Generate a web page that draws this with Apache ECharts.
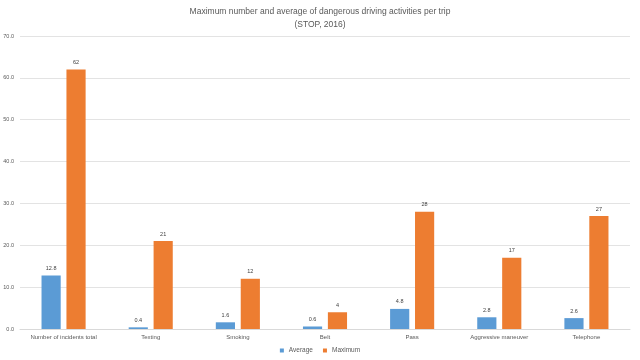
<!DOCTYPE html>
<html><head><meta charset="utf-8">
<script src="https://cdn.jsdelivr.net/npm/echarts@6/dist/echarts.min.js"></script>
<style>html,body{margin:0;padding:0;background:#fff}#c{width:640px;height:360px}</style>
</head><body><div id="c"></div>
<script>
const categories = ["Number of incidents total","Texting","Smoking","Belt","Pass","Aggressive maneuver","Telephone"];
const averageValues = [12.8, 0.4, 1.6, 0.6, 4.8, 2.8, 2.6];
const maximumValues = [62, 21, 12, 4, 28, 17, 27];
const seriesNames = ["Average","Maximum"];
const titleLines = ["Maximum number and average of dangerous driving activities per trip","(STOP, 2016)"];

const FONT = '"Liberation Sans Narrow","Liberation Sans",Arial,sans-serif';
const chart = echarts.init(document.getElementById('c'));
chart.setOption({
  animation:false,
  textStyle:{fontFamily:FONT},
  title:{text:titleLines.join('\n'),left:'center',top:0,
    textStyle:{fontSize:8.5,fontWeight:'normal',color:'#595959',lineHeight:13,fontFamily:FONT}},
  legend:{top:342,left:'center',itemWidth:4,itemHeight:4,itemGap:10,icon:'rect',
    textStyle:{fontSize:6.5,color:'#595959',fontFamily:FONT},data:seriesNames},
  grid:{left:20,right:10,top:36,bottom:31,containLabel:false},
  xAxis:{type:'category',data:categories,
    axisLine:{lineStyle:{color:'#d9d9d9'}},axisTick:{show:false},
    axisLabel:{fontSize:6,color:'#595959',margin:5,interval:0,fontFamily:FONT}},
  yAxis:{type:'value',min:0,max:70,interval:10,
    axisLine:{show:false},axisTick:{show:false},
    splitLine:{lineStyle:{color:'#e3e3e3'}},
    axisLabel:{fontSize:5.5,color:'#595959',margin:6,formatter:v=>v.toFixed(1),fontFamily:FONT}},
  series:[
    {name:seriesNames[0],type:'bar',data:averageValues,barWidth:'22%',barGap:'30%',
     itemStyle:{color:'#5b9bd5'},
     label:{show:true,position:'top',fontSize:5.5,color:'#404040',distance:4,formatter:p=>p.value.toFixed(1),fontFamily:FONT}},
    {name:seriesNames[1],type:'bar',data:maximumValues,barWidth:'22%',barGap:'30%',
     itemStyle:{color:'#ed7d31'},
     label:{show:true,position:'top',fontSize:5.5,color:'#404040',distance:4,fontFamily:FONT}}
  ]
});
</script></body></html>
